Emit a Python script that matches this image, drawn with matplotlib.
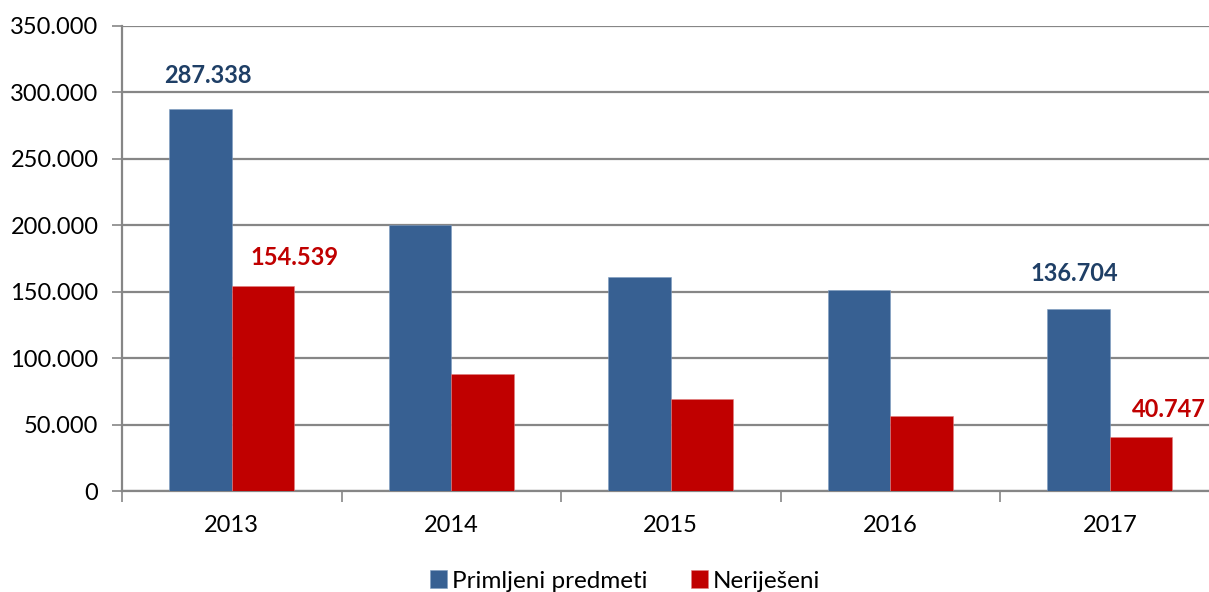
import matplotlib
matplotlib.use("Agg")
import matplotlib.pyplot as plt
import numpy as np
from matplotlib.ticker import FuncFormatter, MultipleLocator

years = ["2013", "2014", "2015", "2016", "2017"]
primljeni = [287338, 200000, 161000, 151000, 136704]
nerijeseni = [154539, 87900, 69600, 56300, 40747]
series_names = ["Primljeni predmeti", "Neriješeni"]

blue = "#376092"
red = "#C00000"
blue_txt = "#1F3F66"
grid_c = "#868686"

plt.rcParams['font.family'] = ['Lato', 'DejaVu Sans']

fig = plt.figure(figsize=(12.09, 5.92), dpi=100)
ax = fig.add_axes([122/1209, 101/592, 1097.5/1209, 465/592])

x = np.arange(len(years))
w = 0.285
b1 = ax.bar(x - w/2, primljeni, w, color=blue, label=series_names[0], zorder=3,
            edgecolor="#7f9cc0", linewidth=0.4)
b2 = ax.bar(x + w/2, nerijeseni, w, color=red, label=series_names[1], zorder=3,
            edgecolor="#e08080", linewidth=0.4)

ax.set_xlim(-0.5, 4.5)
ax.set_ylim(0, 350000)
ax.yaxis.set_major_locator(MultipleLocator(50000))
ax.yaxis.set_major_formatter(FuncFormatter(lambda v, p: f"{int(v):,}".replace(",", ".")))
ax.grid(axis="y", color=grid_c, linewidth=1.6, zorder=0)
ax.set_xticks(x)
ax.set_xticklabels(years)
ax.set_xticks(np.arange(-0.5, 5.0, 1.0), minor=True)
ax.tick_params(axis="x", which="major", length=0, pad=17, labelsize=17)
ax.tick_params(axis="x", which="minor", length=8, width=1.2, color=grid_c)
ax.tick_params(axis="y", length=7, width=1.2, color=grid_c, labelsize=17, pad=10)
for s in ["top", "right"]:
    ax.spines[s].set_visible(False)
for s in ["left", "bottom"]:
    ax.spines[s].set_color(grid_c)
    ax.spines[s].set_linewidth(1.6)

def lab(bar, val, color, dx, dy):
    ax.annotate(f"{val:,}".replace(",", "."),
                (bar.get_x() + bar.get_width()/2, bar.get_height()),
                xytext=(dx, dy), textcoords="offset points",
                ha="center", va="center", fontsize=17, fontweight="bold", color=color)

lab(b1[0], primljeni[0], blue_txt, 5, 24)
lab(b2[0], nerijeseni[0], red, 23, 20)
lab(b1[4], primljeni[4], blue_txt, -3, 26)
lab(b2[4], nerijeseni[4], red, 20, 20)

fig.legend(handles=[b1, b2], labels=series_names, loc="center", bbox_to_anchor=(625/1209, 1 - 581/592),
           ncol=2, frameon=False, fontsize=17.5, handlelength=0.7, handleheight=0.7,
           handletextpad=0.2, columnspacing=1.8)

fig.savefig("out.png", dpi=100)
